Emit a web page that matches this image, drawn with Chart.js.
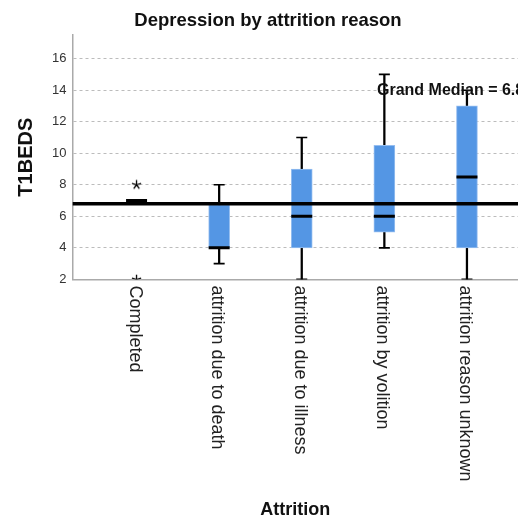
<!DOCTYPE html>
<html>
<head>
<meta charset="utf-8">
<script src="https://cdn.jsdelivr.net/npm/chart.js@4"></script>
<style>
  html, body { margin: 0; padding: 0; background: #fff; }
  #wrap { width: 518px; height: 523px; }
</style>
</head>
<body>
<div id="wrap"><canvas id="chart"></canvas></div>
<script>
// Data
const categories = ["Completed", "attrition due to death", "attrition due to illness", "attrition by volition", "attrition reason unknown"];
const whiskerLow = [7, 3, 2, 4, 2];
const q1 = [7, 4, 4, 5, 4];
const medians = [7, 4, 6, 6, 8.5];
const q3 = [7, 6.75, 9, 10.5, 13];
const whiskerHigh = [7, 8, 11, 15, 14];
const outlierCats = [0, 0];
const outlierValues = [8, 2];
const grandMedian = 6.8;
const yTicks = [2, 4, 6, 8, 10, 12, 14, 16];

Chart.defaults.font.family = "'Liberation Sans', Arial, sans-serif";
Chart.defaults.color = "#222";

// Build the datasets from the arrays
const idx = categories.map((c, i) => i);
const whiskerData = idx.map(i => ({ x: i, y: [whiskerLow[i], whiskerHigh[i]] }));
const boxData = idx.map(i => ({ x: i, y: [q1[i], q3[i]] }));
const medianData = idx.map(i => ({ x: i, y: medians[i] }));
const capData = [];
idx.forEach(i => {
    if (whiskerLow[i] < q1[i]) capData.push({ x: i, y: whiskerLow[i] });
    if (whiskerHigh[i] > q3[i]) capData.push({ x: i, y: whiskerHigh[i] });
});
const outlierData = outlierCats.map((c, k) => ({ x: c, y: outlierValues[k] }));

const xMin = -0.776, xMax = 4.618;

// five-armed asterisk marker used for extreme values
const starImg = document.createElement("canvas");
starImg.width = 11;
starImg.height = 11;
(function () {
    const c = starImg.getContext("2d");
    c.strokeStyle = "#000";
    c.lineWidth = 1.3;
    c.beginPath();
    for (let k = 0; k < 5; k++) {
        const a = -Math.PI / 2 + k * 2 * Math.PI / 5;
        c.moveTo(5.5, 5.5);
        c.lineTo(5.5 + Math.cos(a) * 4.8, 5.5 + Math.sin(a) * 4.8);
    }
    c.stroke();
})();

const textPlugin = {
    id: "textPlugin",
    afterDatasetsDraw(chart) {
        const ctx = chart.ctx;
        const y = chart.scales.y;
        ctx.save();
        ctx.fillStyle = "#111";
        ctx.font = "bold 16px 'Liberation Sans', Arial, sans-serif";
        ctx.textAlign = "left";
        ctx.textBaseline = "middle";
        ctx.fillText("Grand Median = " + grandMedian, 377, y.getPixelForValue(14));
        ctx.restore();
    },
    afterDraw(chart) {
        const ctx = chart.ctx;
        const x = chart.scales.x;
        const area = chart.chartArea;
        ctx.save();
        // chart title
        ctx.fillStyle = "#111";
        ctx.font = "bold 18.5px 'Liberation Sans', Arial, sans-serif";
        ctx.textAlign = "center";
        ctx.textBaseline = "alphabetic";
        ctx.fillText("Depression by attrition reason", 268, 26);
        // category labels, rotated to read top to bottom
        ctx.font = "18px 'Liberation Sans', Arial, sans-serif";
        ctx.fillStyle = "#222";
        ctx.textAlign = "left";
        ctx.textBaseline = "middle";
        categories.forEach((label, i) => {
            ctx.save();
            ctx.translate(x.getPixelForValue(i) - 2, area.bottom + 6);
            ctx.rotate(Math.PI / 2);
            ctx.fillText(label, 0, 0);
            ctx.restore();
        });
        ctx.restore();
    }
};

const ctx = document.getElementById("chart").getContext("2d");
const chart = new Chart(ctx, {
    type: "bar",
    data: {
        datasets: [
            {
                label: "whiskers",
                data: whiskerData,
                backgroundColor: "#000",
                barThickness: 1.6,
                grouped: false,
                order: 5,
            },
            {
                label: "caps",
                type: "scatter",
                data: capData,
                pointStyle: "line",
                pointRadius: 5.5,
                borderWidth: 1.6,
                borderColor: "#000",
                order: 4,
            },
            {
                label: "boxes",
                data: boxData,
                backgroundColor: "rgb(84, 150, 228)",
                borderColor: "rgb(150, 190, 240)",
                borderWidth: 1,
                borderSkipped: false,
                barThickness: 21,
                grouped: false,
                order: 3,
            },
            {
                label: "medians",
                type: "scatter",
                data: medianData,
                pointStyle: "line",
                pointRadius: 10.5,
                borderWidth: 3,
                borderColor: "#000",
                order: 2,
            },
            {
                label: "grand median",
                type: "line",
                data: [{ x: xMin, y: grandMedian }, { x: xMax, y: grandMedian }],
                borderColor: "#000",
                borderWidth: 3.5,
                pointRadius: 0,
                order: 1,
            },
            {
                label: "extremes",
                type: "scatter",
                data: outlierData,
                pointStyle: starImg,
                pointRadius: 5,
                clip: 0,
                order: 0,
            },
        ],
    },
    options: {
        responsive: true,
        maintainAspectRatio: false,
        animation: false,
        layout: { autoPadding: false, padding: { top: 35, right: 0, bottom: 0, left: 0 } },
        plugins: {
            legend: { display: false },
            tooltip: { enabled: false },
            title: { display: false },
        },
        scales: {
            x: {
                type: "linear",
                min: xMin,
                max: xMax,
                offset: false,
                ticks: { display: false },
                grid: { display: false, offset: false, drawTicks: false, tickLength: 0 },
                border: { display: true, color: "#aaa", width: 1.5 },
                title: {
                    display: true,
                    text: "Attrition",
                    font: { size: 18, weight: "bold" },
                    color: "#111",
                    padding: { top: 220, bottom: 2 },
                },
            },
            y: {
                type: "linear",
                min: 2,
                max: 17.5,
                afterBuildTicks: scale => {
                    scale.ticks = yTicks.map(v => ({ value: v }));
                },
                ticks: { font: { size: 13 }, color: "#333", padding: 6 },
                grid: { color: "#bcbcbc", lineWidth: 1, drawTicks: false, tickLength: 0 },
                border: { display: true, color: "#aaa", width: 1.5, dash: [3, 3] },
                title: {
                    display: true,
                    text: "T1BEDS",
                    font: { size: 20, weight: "bold" },
                    color: "#111",
                    padding: { top: 14, bottom: 8 },
                },
            },
        },
    },
    plugins: [textPlugin],
});
</script>
</body>
</html>
